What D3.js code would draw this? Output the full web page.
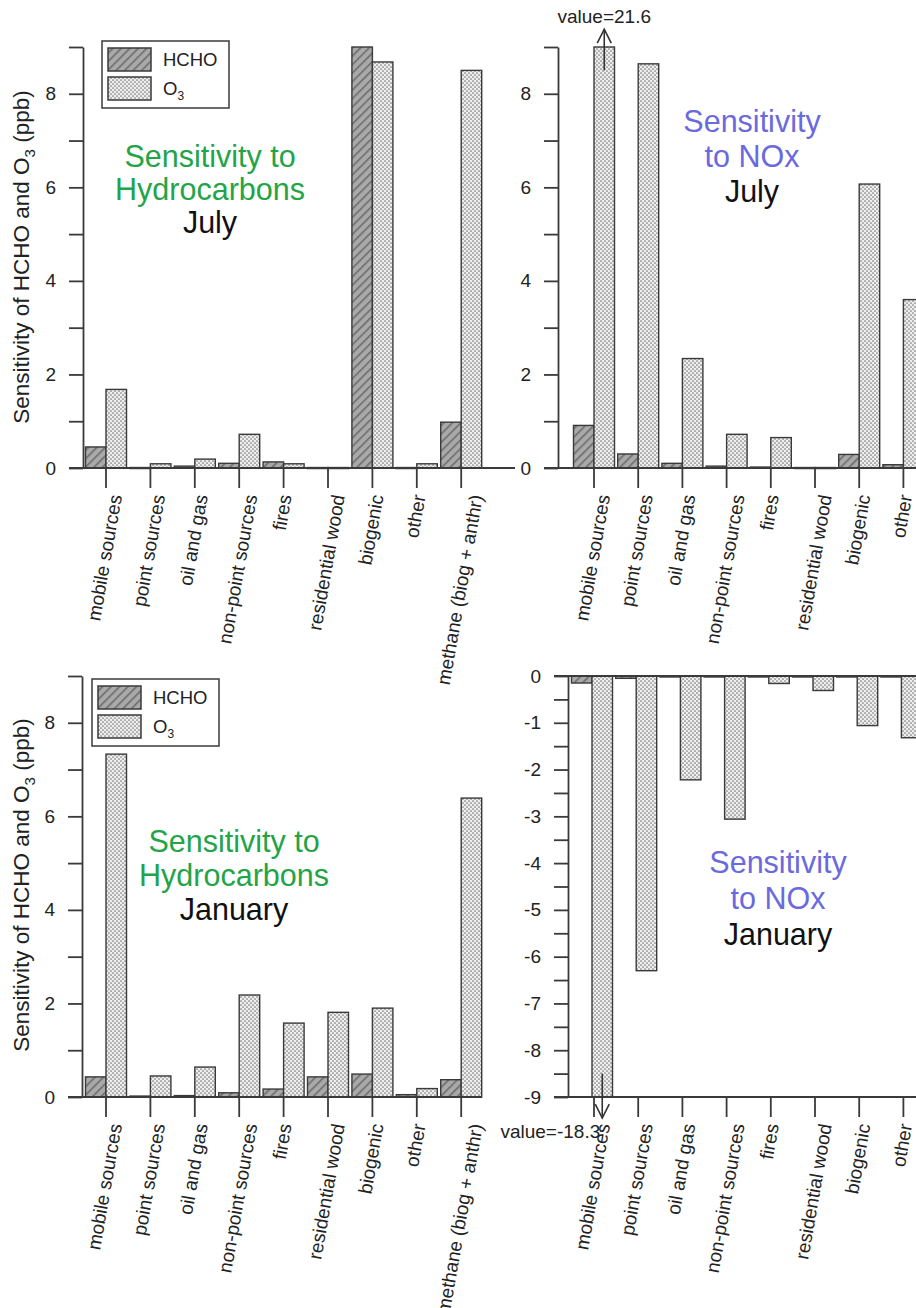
<!DOCTYPE html>
<html lang="en">
<head>
<meta charset="UTF-8">
<title>Sensitivity of HCHO and O3</title>
<script src="https://cdn.jsdelivr.net/npm/d3@7"></script>
<style>
  body { margin: 0; background: #fff; }
  svg { display: block; font-family: Arial, "Liberation Sans", sans-serif; }
</style>
</head>
<body>
<div id="chart"></div>
<script>
  // source categories (the NOx panels only show the first eight)
  const sources = ["mobile sources", "point sources", "oil and gas", "non-point sources", "fires",
                   "residential wood", "biogenic", "other", "methane (biog + anthr)"];
  const noxSources = sources.slice(0, 8);

  // sensitivities in ppb
  const hcJulyHCHO = [0.45, 0.01, 0.04, 0.10, 0.13, 0.01, 9.0, 0.01, 0.98];
  const hcJulyO3   = [1.68, 0.09, 0.19, 0.72, 0.09, 0.01, 8.68, 0.09, 8.5];
  const noxJulyHCHO = [0.91, 0.30, 0.10, 0.04, 0.02, 0.01, 0.29, 0.07];
  const noxJulyO3   = [21.6, 8.64, 2.34, 0.72, 0.65, 0.01, 6.07, 3.6];
  const hcJanHCHO = [0.43, 0.02, 0.03, 0.09, 0.17, 0.43, 0.49, 0.05, 0.37];
  const hcJanO3   = [7.33, 0.45, 0.64, 2.18, 1.58, 1.81, 1.9, 0.18, 6.39];
  const noxJanHCHO = [-0.15, -0.05, -0.02, -0.02, -0.01, -0.01, -0.01, -0.01];
  const noxJanO3   = [-18.3, -6.3, -2.22, -3.06, -0.16, -0.31, -1.06, -1.32];

  const hcTitle = ["Sensitivity to", "Hydrocarbons"];
  const noxTitle = ["Sensitivity", "to NOx"];

  const width = 916, height = 1308;
  const barW = 20.5;
  const green = "#22a447", blue = "#6a6ade", ink = "#222";

  const panels = [
    { cats: sources, hcho: hcJulyHCHO, o3: hcJulyO3, domain: [0, 9], minor: 1, major: 2,
      axisX: 83, top: 47, bottom: 468, first: 106, step: 44.4, lineEnd: 515,
      title: hcTitle, color: green, month: "July", tx: 210, ty: 167, lh: 33,
      legend: [102, 41], ytitle: [29, 257] },
    { cats: noxSources, hcho: noxJulyHCHO, o3: noxJulyO3, domain: [0, 9], minor: 1, major: 2,
      axisX: 558, top: 47, bottom: 468, first: 594, step: 44.2, lineEnd: width,
      title: noxTitle, color: blue, month: "July", tx: 752, ty: 132, lh: 35,
      arrow: { from: 8.5, to: 9.38 } },
    { cats: sources, hcho: hcJanHCHO, o3: hcJanO3, domain: [0, 9], minor: 1, major: 2,
      axisX: 82, top: 676, bottom: 1097, first: 106, step: 44.4, lineEnd: 482,
      title: hcTitle, color: green, month: "January", tx: 234, ty: 852, lh: 34,
      legend: [92, 679], ytitle: [29, 885] },
    { cats: noxSources, hcho: noxJanHCHO, o3: noxJanO3, domain: [-9, 0], minor: 0.5, major: 1,
      axisX: 568, top: 676, bottom: 1097, first: 594, step: 44.2, lineEnd: width, shift: -2,
      title: noxTitle, color: blue, month: "January", tx: 778, ty: 873, lh: 36,
      arrow: { from: -8.5, to: -9.45 } }
  ];

  const svg = d3.select("#chart").append("svg")
      .attr("width", width)
      .attr("height", height);

  // fill patterns
  const defs = svg.append("defs");
  const hatch = defs.append("pattern").attr("id", "hatch")
      .attr("patternUnits", "userSpaceOnUse").attr("width", 6).attr("height", 6)
      .attr("patternTransform", "rotate(45)");
  hatch.append("rect").attr("width", 6).attr("height", 6).attr("fill", "#a9a9a9");
  hatch.append("line").attr("x1", 0.8).attr("y1", 0).attr("x2", 0.8).attr("y2", 6)
      .attr("stroke", "#6c6c6c").attr("stroke-width", 1.6);
  const dots = defs.append("pattern").attr("id", "dots")
      .attr("patternUnits", "userSpaceOnUse").attr("width", 4).attr("height", 4);
  dots.append("rect").attr("width", 4).attr("height", 4).attr("fill", "#eeeeee");
  dots.append("circle").attr("cx", 1).attr("cy", 1).attr("r", 0.85).attr("fill", "#7a7a7a");
  dots.append("circle").attr("cx", 3).attr("cy", 3).attr("r", 0.85).attr("fill", "#7a7a7a");

  panels.forEach(p => {
    const shift = p.shift || 0;
    const x = d3.scaleBand()
        .domain(p.cats)
        .range([p.first - p.step / 2, p.first - p.step / 2 + p.step * p.cats.length]);
    const y = d3.scaleLinear().domain(p.domain).range([p.bottom, p.top]).clamp(true);
    const yFree = y.copy().clamp(false);
    const cx = d => x(d) + x.bandwidth() / 2 + shift;
    const g = svg.append("g");

    // bars
    [["hcho", "url(#hatch)", -barW], ["o3", "url(#dots)", 0]].forEach(([key, fill, off]) => {
      g.append("g").selectAll("rect")
        .data(p.cats)
        .join("rect")
          .attr("x", d => cx(d) + off)
          .attr("y", (d, i) => Math.min(y(0), y(p[key][i])))
          .attr("width", barW)
          .attr("height", (d, i) => Math.max(1, Math.abs(y(0) - y(p[key][i]))))
          .attr("fill", fill)
          .attr("stroke", "#3a3a3a")
          .attr("stroke-width", 1.4);
    });

    // y axis
    const yAxis = d3.axisLeft(y)
        .tickValues(d3.range(p.domain[0], p.domain[1] + 1e-9, p.minor))
        .tickSize(14).tickSizeOuter(0).tickPadding(13)
        .tickFormat(d => Math.abs(d % p.major) < 1e-9 ? String(d) : "");
    const ya = g.append("g").attr("transform", `translate(${p.axisX},0)`).call(yAxis);
    ya.selectAll("path, line").attr("stroke", "#3a3a3a").attr("stroke-width", 1.8);
    ya.selectAll("text").attr("font-size", 19).attr("fill", ink)
        .style("font-family", "Arial, 'Liberation Sans', sans-serif");

    // baselines
    const baseYs = p.domain[0] < 0 ? [y(0), y(p.domain[0])] : [y(0)];
    baseYs.forEach(by => {
      g.append("line")
          .attr("x1", p.axisX - 14).attr("x2", p.lineEnd)
          .attr("y1", by).attr("y2", by)
          .attr("stroke", "#3a3a3a").attr("stroke-width", 1.8);
    });

    // category ticks
    const xAxis = d3.axisBottom(x).tickSize(20).tickSizeOuter(0).tickFormat("");
    const xa = g.append("g").attr("transform", `translate(0,${p.bottom})`).call(xAxis);
    xa.select(".domain").remove();
    xa.selectAll("line").attr("stroke", "#3a3a3a").attr("stroke-width", 1.8);

    // slanted category labels
    const sin80 = Math.sin(80 * Math.PI / 180);
    g.append("g").selectAll("text")
      .data(p.cats)
      .join("text")
        .attr("font-size", 19)
        .attr("fill", ink)
        .attr("text-anchor", "middle")
        .text(d => d)
        .attr("transform", function (d) {
          const L = this.getComputedTextLength();
          return `translate(${x(d) + x.bandwidth() / 2 + 5},${p.bottom + 28 + L / 2 * sin80}) rotate(-80)`;
        });

    // panel title
    const t = g.append("g").attr("font-size", 30.5).attr("text-anchor", "middle");
    p.title.forEach((line, i) => {
      t.append("text").attr("x", p.tx).attr("y", p.ty + i * p.lh).attr("fill", p.color).text(line);
    });
    t.append("text").attr("x", p.tx).attr("y", p.ty + 2 * p.lh).attr("fill", "#111").text(p.month);

    // legend
    if (p.legend) {
      const [lx, ly] = p.legend;
      const lg = g.append("g").attr("transform", `translate(${lx},${ly})`);
      lg.append("rect").attr("width", 127).attr("height", 67)
          .attr("fill", "#fff").attr("stroke", "#3a3a3a").attr("stroke-width", 1.5);
      [["url(#hatch)", "HCHO"], ["url(#dots)", "O"]].forEach(([fill, label], i) => {
        lg.append("rect").attr("x", 6).attr("y", 7 + i * 29).attr("width", 43).attr("height", 23)
            .attr("fill", fill).attr("stroke", "#3a3a3a").attr("stroke-width", 1.5);
        const lt = lg.append("text").attr("x", 61).attr("y", 25 + i * 29)
            .attr("font-size", 18.5).attr("fill", ink).text(label);
        if (i === 1) lt.append("tspan").attr("font-size", 12).attr("dy", 5).text("3");
      });
    }

    // y axis title
    if (p.ytitle) {
      const yt = g.append("text")
          .attr("transform", `translate(${p.ytitle[0]},${p.ytitle[1]}) rotate(-90)`)
          .attr("text-anchor", "middle").attr("font-size", 22.5).attr("fill", ink)
          .text("Sensitivity of HCHO and O");
      yt.append("tspan").attr("font-size", 15).attr("dy", 6).text("3");
      yt.append("tspan").attr("dy", -6).text(" (ppb)");
    }

    // off-scale value marker
    if (p.arrow) {
      const ax = cx(p.cats[0]) + barW / 2;
      const y1 = yFree(p.arrow.from), y2 = yFree(p.arrow.to);
      const dir = y2 < y1 ? 1 : -1;
      const ag = g.append("g").attr("stroke", "#333").attr("stroke-width", 1.6).attr("fill", "none");
      ag.append("line").attr("x1", ax).attr("x2", ax).attr("y1", y1).attr("y2", y2);
      ag.append("path").attr("d", `M${ax - 7},${y2 + dir * 14}L${ax},${y2}L${ax + 7},${y2 + dir * 14}`);
      const v = p.o3[0];
      g.append("text")
          .attr("x", dir > 0 ? ax : ax - 2)
          .attr("y", dir > 0 ? y2 - 6 : y2 + 20)
          .attr("text-anchor", dir > 0 ? "middle" : "end")
          .attr("font-size", 19).attr("fill", ink)
          .text(`value=${v}`);
    }
  });
</script>
</body>
</html>
